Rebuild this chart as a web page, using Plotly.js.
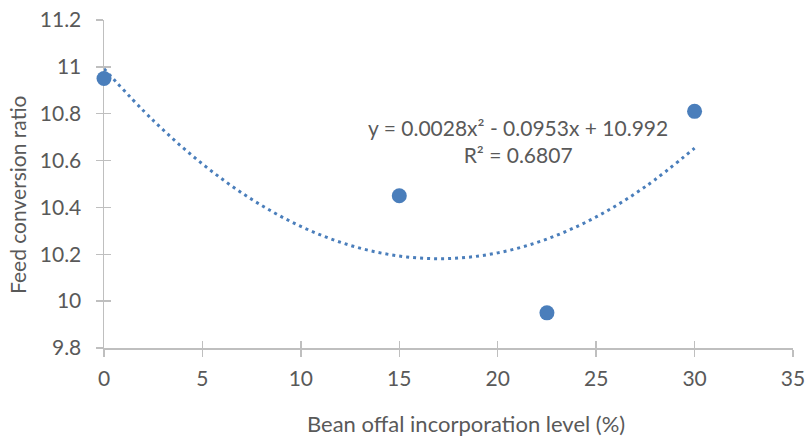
<!DOCTYPE html>
<html><head><meta charset="utf-8">
<script src="https://cdn.plot.ly/plotly-3.0.1.min.js"></script>
<style>html,body{margin:0;padding:0;background:#fff}#c{width:805px;height:439px}</style>
</head><body><div id="c"></div>
<script>
// Data
var levels = [0, 15, 22.5, 30];
var fcr = [10.95, 10.45, 9.95, 10.81];
// Polynomial trendline coefficients as printed on the chart (a*x^2 + b*x + c)
var trendCoef = [0.0028, -0.0953, 10.992];
var trendX = [0, 2.5, 5, 7.5, 10, 12.5, 15, 17.5, 20, 22.5, 25, 27.5, 30];
var trendY = trendX.map(function(x){ return trendCoef[0]*x*x + trendCoef[1]*x + trendCoef[2]; });
var xTicks = [0, 5, 10, 15, 20, 25, 30, 35];
var yTicks = [9.8, 10, 10.2, 10.4, 10.6, 10.8, 11, 11.2];
var yTickText = ['9.8', '10', '10.2', '10.4', '10.6', '10.8', '11', '11.2'];

var blue = '#4a7ebb';
var txt = '#595959';
var axc = '#bfbfbf';
var fnt = 'Lato, "Open Sans", sans-serif';

var traces = [
  {x: trendX, y: trendY, mode: 'lines', cliponaxis: false, line: {color: blue, width: 3, dash: '3px,4px', shape: 'spline'}, hoverinfo: 'skip'},
  {x: levels, y: fcr, mode: 'markers', cliponaxis: false, marker: {color: blue, size: 15}},
  {x: [], y: [], xaxis: 'x2', yaxis: 'y2', mode: 'markers'}
];

var common = {showgrid: false, zeroline: false, showline: true, linecolor: axc, linewidth: 1.5,
  tickcolor: axc, tickwidth: 1.5, ticklen: 7, layer: 'below traces'};

var layout = {
  width: 805, height: 439,
  margin: {l: 104, r: 12, t: 20, b: 91},
  paper_bgcolor: '#fff', plot_bgcolor: '#fff',
  showlegend: false,
  font: {family: fnt, color: txt, size: 21},
  xaxis: Object.assign({}, common, {range: [0, 35], tickmode: 'array', tickvals: xTicks, ticks: 'outside',
    tickfont: {size: 21, color: txt, family: fnt}, ticklabelstandoff: 4, ticklabeloverflow: 'allow'}),
  yaxis: Object.assign({}, common, {range: [9.8, 11.2], tickmode: 'array', tickvals: yTicks, ticktext: yTickText,
    ticks: 'outside', tickfont: {size: 21, color: txt, family: fnt}, ticklabelstandoff: 10, ticklabeloverflow: 'allow'}),
  xaxis2: Object.assign({}, common, {range: [0, 35], overlaying: 'x', tickmode: 'array', tickvals: xTicks,
    ticks: 'inside', showticklabels: false}),
  yaxis2: Object.assign({}, common, {range: [9.8, 11.2], overlaying: 'y', tickmode: 'array', tickvals: yTicks,
    ticks: 'inside', showticklabels: false})
};
var pw = 805 - 104 - 12, ph = 439 - 20 - 91;
layout.annotations = [
  {xref: 'paper', yref: 'paper', x: (466 - 104) / pw, y: -(423 - 348) / ph, yanchor: 'middle', xanchor: 'center',
   text: 'Bean offal incorporation level (%)', showarrow: false, font: {size: 22, color: txt, family: fnt}},
  {xref: 'paper', yref: 'paper', x: (18 - 104) / pw, y: (348 - 195) / ph, xanchor: 'center', yanchor: 'middle',
   textangle: -90, text: 'Feed conversion ratio', showarrow: false, font: {size: 21, color: txt, family: fnt}},
  {xref: 'paper', yref: 'paper', x: (518 - 104) / pw, y: (348 - 141) / ph, xanchor: 'center', yanchor: 'middle',
   text: 'y = 0.0028x² - 0.0953x + 10.992<br>R² = 0.6807', showarrow: false,
   font: {size: 21, color: txt, family: fnt}}
];
Plotly.newPlot('c', traces, layout, {displayModeBar: false, staticPlot: true});
</script></body></html>
